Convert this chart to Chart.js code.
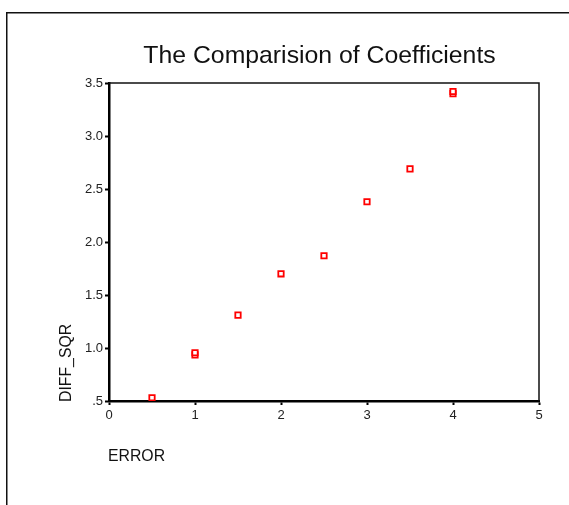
<!DOCTYPE html>
<html>
<head>
<meta charset="utf-8">
<script src="https://cdn.jsdelivr.net/npm/chart.js@4/dist/chart.umd.min.js"></script>
<style>
  body { margin: 0; background: #fff; }
  canvas { display: block; }
</style>
</head>
<body>
<canvas id="chart" width="569" height="505"></canvas>
<script>
// --- donnees ---
const errorValues = [0.5, 1, 1, 1.5, 2, 2.5, 3, 3.5, 4, 4];
const diffSqrValues = [0.53, 0.935, 0.955, 1.31, 1.70, 1.87, 2.38, 2.69, 3.40, 3.42];
const xTicks = [0, 1, 2, 3, 4, 5];
const yTicks = ['.5', '1.0', '1.5', '2.0', '2.5', '3.0', '3.5'];

const titre = 'The Comparision of Coefficients';
const titreX = 'ERROR';
const titreY = 'DIFF_SQR';

const FONT = '"Liberation Sans", Arial, sans-serif';

const points = errorValues.map((x, i) => ({x: x, y: diffSqrValues[i]}));

// cadre exterieur, titres, bords haut/droite du graphe
const decorPlugin = {
  id: 'decor',
  beforeDraw(chart) {
    const ctx = chart.ctx;
    ctx.save();
    ctx.fillStyle = '#fff';
    ctx.fillRect(0, 0, chart.width, chart.height);
    ctx.strokeStyle = '#111';
    ctx.lineWidth = 1.5;
    ctx.strokeRect(6.75, 12.75, chart.width + 20, chart.height + 20);

    ctx.fillStyle = '#111';
    ctx.font = '24.8px ' + FONT;
    ctx.textAlign = 'center';
    ctx.textBaseline = 'alphabetic';
    ctx.fillText(titre, 319.5, 62.5);

    ctx.font = '15.8px ' + FONT;
    ctx.textAlign = 'left';
    ctx.fillText(titreX, 108, 461);

    ctx.translate(71, 402);
    ctx.rotate(-Math.PI / 2);
    ctx.fillText(titreY, 0, 0);
    ctx.restore();
  },
  afterDatasetsDraw(chart) {
    const a = chart.chartArea;
    const ctx = chart.ctx;
    ctx.save();
    ctx.strokeStyle = '#111';
    ctx.lineWidth = 1.5;
    ctx.beginPath();
    ctx.moveTo(a.left, a.top);
    ctx.lineTo(a.right, a.top);
    ctx.lineTo(a.right, a.bottom);
    ctx.stroke();
    ctx.restore();
  }
};

new Chart(document.getElementById('chart'), {
  type: 'scatter',
  data: {
    datasets: [{
      data: points,
      pointStyle: 'rect',
      pointRadius: 3.8,
      pointHoverRadius: 3.8,
      borderWidth: 1.8,
      borderColor: '#ff0000',
      backgroundColor: '#ffffff'
    }]
  },
  options: {
    responsive: false,
    animation: false,
    layout: { padding: { left: 0, right: 30, top: 83, bottom: 0 } },
    plugins: {
      legend: { display: false },
      tooltip: { enabled: false }
    },
    scales: {
      x: {
        type: 'linear',
        min: xTicks[0],
        max: xTicks[xTicks.length - 1],
        afterBuildTicks: s => { s.ticks = xTicks.map(v => ({value: v})); },
        afterFit: s => { s.height = 104; },
        border: { color: '#000', width: 2.5 },
        grid: { drawOnChartArea: false, tickLength: 4, tickColor: '#000', tickWidth: 2 },
        ticks: {
          color: '#222',
          padding: 3,
          font: { family: FONT, size: 13 },
          callback: v => String(v)
        }
      },
      y: {
        type: 'linear',
        min: 0.5,
        max: 3.5,
        afterBuildTicks: s => { s.ticks = yTicks.map((t, i) => ({value: 0.5 + i * 0.5})); },
        afterFit: s => { s.width = 109; },
        border: { color: '#000', width: 2.5 },
        grid: { drawOnChartArea: false, tickLength: 4, tickColor: '#000', tickWidth: 2 },
        ticks: {
          color: '#222',
          padding: 2,
          font: { family: FONT, size: 13 },
          callback: (v, i) => yTicks[i]
        }
      }
    }
  },
  plugins: [decorPlugin]
});
</script>
</body>
</html>
